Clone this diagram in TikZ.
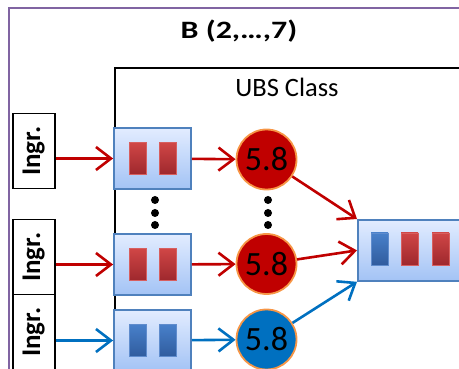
\documentclass[tikz,border=0pt]{standalone}
\usepackage{fontspec}
\setmainfont{Carlito}
\usetikzlibrary{arrows.meta}
\definecolor{ured}{RGB}{192,0,0}
\definecolor{ublue}{RGB}{0,112,192}
\definecolor{upurple}{RGB}{128,100,162}
\definecolor{qborder}{RGB}{79,129,189}
\definecolor{corange}{RGB}{247,150,70}
\tikzset{
  qbox/.style={draw=qborder, line width=1.8pt, top color={rgb,255:red,226;green,236;blue,255}, bottom color={rgb,255:red,163;green,195;blue,245}, minimum width=77pt, minimum height=61pt, inner sep=0pt},
  rbar/.style={top color={rgb,255:red,208;green,70;blue,70}, bottom color={rgb,255:red,158;green,40;blue,45}, draw={rgb,255:red,215;green,95;blue,95}, line width=0.6pt},
  bbar/.style={top color={rgb,255:red,72;green,128;blue,202}, bottom color={rgb,255:red,48;green,92;blue,158}, draw={rgb,255:red,95;green,140;blue,205}, line width=0.6pt},
  ingr/.style={draw=black, line width=1.5pt, minimum width=42pt, inner sep=0pt, font=\bfseries\fontsize{27}{28}\selectfont},
  circ/.style={circle, draw=corange, line width=1.8pt, minimum size=60pt, inner sep=0pt, font=\fontsize{34}{36}\selectfont},
  arr/.style={line width=2.6pt, -{Straight Barb[length=15pt,width=23pt,line width=2.6pt]}},
  dotc/.style={circle, fill=black, minimum size=8pt, inner sep=0pt}
}
\begin{document}
\begin{tikzpicture}[x=1pt,y=-1pt]
\useasboundingbox (0,0) rectangle (459,369);
\clip (0,0) rectangle (459,369);
% outer purple box
\draw[upurple, line width=2pt] (9,380) -- (9,8) -- (470,8);
\node[font=\bfseries\fontsize{25}{26}\selectfont] (title) at (239,31) {\scalebox{1.28}[1]{B (2,…,7)}};
% inner UBS box
\draw[black, line width=1.5pt] (115,380) -- (115,68) -- (470,68);
\node[font=\fontsize{26.5}{28}\selectfont] (ubs) at (287,87) {UBS Class};
% Ingr boxes
\node[ingr, minimum height=75pt, anchor=north west] (i1) at (12,113) {\rotatebox{90}{Ingr.}};
\node[ingr, minimum height=75pt, anchor=north west] (i2) at (12,219) {\rotatebox{90}{Ingr.}};
\node[ingr, minimum height=75pt, anchor=north west] (i3) at (12,294) {\rotatebox{90}{Ingr.}};
% queue boxes
\node[qbox] (q1) at (152.5,158.5) {};
\node[qbox] (q2) at (152.5,264.5) {};
\node[qbox] (q3) at (152.5,340.5) {};
\foreach \q/\s in {q1/rbar,q2/rbar,q3/bbar}{
  \draw[\s] ([xshift=-23.5pt,yshift=-16pt]\q.center) rectangle ([xshift=-6.5pt,yshift=16pt]\q.center);
  \draw[\s] ([xshift=6.5pt,yshift=-16pt]\q.center) rectangle ([xshift=23.5pt,yshift=16pt]\q.center);
}
% circles
\node[circ, fill=ured] (c1) at (266.5,159.5) {5.8};
\node[circ, fill=ured] (c2) at (266.5,264) {5.8};
\node[circ, fill=ublue] (c3) at (266.5,339.5) {5.8};
% dots
\node[dotc] (d1) at (155,200) {};
\node[dotc] (d2) at (155,213) {};
\node[dotc] (d3) at (155,225) {};
\node[dotc] (e1) at (268,200) {};
\node[dotc] (e2) at (268,213) {};
\node[dotc] (e3) at (268,225) {};
% output box
\node[qbox, minimum width=110pt, anchor=north west] (out) at (357,219) {};
\draw[bbar] (371,233) rectangle (388,265);
\draw[rbar] (401,233) rectangle (418,265);
\draw[rbar] (432,233) rectangle (449,265);
% arrows
\draw[arr, ured] (i1.east |- q1.west) -- (q1.west);
\draw[arr, ured] (i2.east |- q2.west) -- (q2.west);
\draw[arr, ublue] (i3.east |- q3.west) -- (q3.west);
\draw[arr, ured] (q1) -- (c1);
\draw[arr, ured] (q2) -- (c2);
\draw[arr, ublue] (q3) -- (c3);
\draw[arr, ured] (c1) -- (out.north west);
\draw[arr, ured] (c2) -- (out.west);
\draw[arr, ublue] (c3) -- (out.south west);
\end{tikzpicture}
\end{document}
